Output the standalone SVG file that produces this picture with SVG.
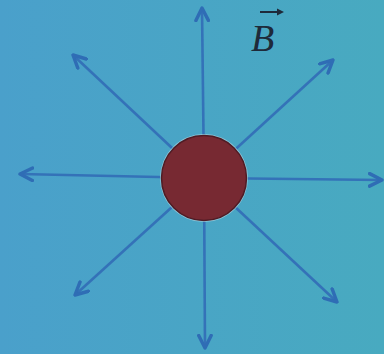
<svg xmlns="http://www.w3.org/2000/svg" width="384" height="354" viewBox="0 0 384 354">
<defs>
<linearGradient id="bg" x1="0" y1="0" x2="1" y2="0">
<stop offset="0" stop-color="#4aa0cb"/>
<stop offset="1" stop-color="#48aac0"/>
</linearGradient>
<marker id="ah" viewBox="0 0 10 10" refX="9" refY="5" markerWidth="6" markerHeight="6" orient="auto" markerUnits="strokeWidth">
<path d="M1,1 L9,5 L1,9" fill="none" stroke="#2f6db5" stroke-width="2.2" stroke-linecap="round" stroke-linejoin="round"/>
</marker>
<style>
.a{stroke:#3472b8;stroke-width:2.6;fill:none;marker-end:url(#ah)}
</style>
</defs>
<rect width="384" height="354" fill="url(#bg)"/>
<g id="connectors">
<line class="a" x1="204" y1="178" x2="202" y2="8"/>
<line class="a" x1="204" y1="178" x2="333" y2="60"/>
<line class="a" x1="204" y1="178" x2="382" y2="180"/>
<line class="a" x1="204" y1="178" x2="337" y2="302"/>
<line class="a" x1="204" y1="178" x2="205" y2="348"/>
<line class="a" x1="204" y1="178" x2="75" y2="295"/>
<line class="a" x1="204" y1="178" x2="20" y2="174"/>
<line class="a" x1="204" y1="178" x2="73" y2="55"/>
</g>
<g id="charge">
<circle cx="204" cy="178" r="44" fill="#8fc6d8"/>
<circle cx="204" cy="178" r="42.5" fill="#772932" stroke="#4f1b24" stroke-width="1.5"/>
</g>
<g id="label">
<text x="251" y="51" font-family="Liberation Serif, serif" font-style="italic" font-size="38" fill="#1e2a3a">B</text>
<line x1="260" y1="12" x2="280" y2="12" stroke="#1e2a3a" stroke-width="2"/>
<path d="M277,8.5 L284,12 L277,15.5 Z" fill="#1e2a3a"/>
</g>
</svg>
